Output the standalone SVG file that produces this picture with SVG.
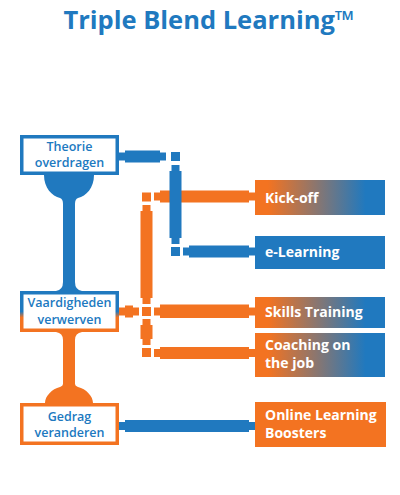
<svg xmlns="http://www.w3.org/2000/svg" width="400" height="495" viewBox="0 0 400 495">
<defs>
<linearGradient id="gH" x1="0" y1="0" x2="1" y2="0">
<stop offset="0.1" stop-color="#F37321"/>
<stop offset="0.85" stop-color="#2079BF"/>
</linearGradient>
<linearGradient id="gV" x1="0" y1="0" x2="0" y2="1">
<stop offset="0.5" stop-color="#2079BF"/>
<stop offset="0.66" stop-color="#F37321"/>
</linearGradient>
</defs>
<style>
.b{fill:#2079BF}
.o{fill:#F37321}
.title{font-family:"Open Sans","Noto Sans",sans-serif;font-weight:700;font-size:25.5px;fill:#2079BF}
.lt{font-family:"Open Sans","Noto Sans",sans-serif;font-weight:600;font-size:12.5px;fill:#2079BF;text-anchor:middle}
.rt{font-family:"Open Sans","Noto Sans",sans-serif;font-weight:700;font-size:14px;fill:#fff}
.lbox{fill:#fff;stroke-width:3.5}
</style>
<rect width="400" height="495" fill="#fff"/>
<text class="title" x="209" y="29" text-anchor="middle">Triple Blend Learning™</text>

<g id="connectors">
<path class="b" d="M44 175 H94 C94 188 86 196 78 198 Q75 199 75 204 V282 Q75 290 82 291 H56 Q63 290 63 282 V204 Q63 199 60 198 C52 196 44 188 44 175 Z"/>
<path class="o" d="M56 332 H82 Q75 333 75 340 V384 Q75 386 78 387 C86 389 93 396 93 403 H45 C45 396 52 389 60 387 Q63 386 63 384 V340 Q63 333 56 332 Z"/>
<rect class="o" x="142" y="192.5" width="9" height="9"/>
<path class="o" d="M154 192.5 H160 V190.5 H249 V192.5 H255 V200.5 H249 V202.5 H160 V200.5 H154 Z"/>
<path class="o" d="M142.5 205 V211 H140.5 V298 H142.5 V304 H150.5 V298 H152.5 V211 H150.5 V205 Z"/>
<rect class="o" x="142" y="307" width="9" height="9"/>
<path class="o" d="M119 307.5 H125 V305.5 H133 V307.5 H139 V315.5 H133 V317.5 H125 V315.5 H119 Z"/>
<path class="o" d="M154 307.5 H160 V304.5 H249 V307.5 H255 V315.5 H249 V318 H160 V315.5 H154 Z"/>
<path class="o" d="M142.5 319 V325 H140.5 V339 H142.5 V345 H150.5 V339 H152.5 V325 H150.5 V319 Z"/>
<rect class="o" x="142" y="348" width="9" height="9"/>
<path class="o" d="M154 349 H160 V347 H249 V349 H255 V357 H249 V359 H160 V357 H154 Z"/>
<path class="b" d="M119 152.5 H125 V150.5 H160 V152.5 H166 V160.5 H160 V162.5 H125 V160.5 H119 Z"/>
<rect class="b" x="171" y="152" width="9" height="9"/>
<path class="b" d="M171.5 165 V171 H169.5 V238 H171.5 V244 H179.5 V238 H181.5 V171 H179.5 V165 Z"/>
<rect class="b" x="171" y="247" width="9" height="9"/>
<path class="b" d="M183 247.5 H189 V245.5 H249 V247.5 H255 V255.5 H249 V257.5 H189 V255.5 H183 Z"/>
<path class="b" d="M119 422 H125 V420 H249 V422 H255 V430 H249 V432 H125 V430 H119 Z"/>
</g>

<g id="theorie">
<rect class="lbox" x="21.75" y="136.75" width="95.5" height="36.5" stroke="#2079BF"/>
<text class="lt" x="69.5" y="150.5">Theorie</text>
<text class="lt" x="69.5" y="167">overdragen</text>
</g>
<g id="vaardigheden">
<rect class="lbox" x="21.75" y="292.75" width="95.5" height="37.5" stroke="url(#gV)"/>
<text class="lt" x="69.5" y="306.5">Vaardigheden</text>
<text class="lt" x="69.5" y="324">verwerven</text>
</g>
<g id="gedrag">
<rect class="lbox" x="21.75" y="404.75" width="95.5" height="38.5" stroke="#F37321"/>
<text class="lt" x="69.5" y="420.5">Gedrag</text>
<text class="lt" x="69.5" y="437">veranderen</text>
</g>

<g id="kickoff">
<rect x="255" y="180" width="130" height="35" fill="url(#gH)"/>
<text class="rt" x="265" y="203">Kick-off</text>
</g>
<g id="elearning">
<rect class="b" x="255" y="236" width="130" height="33"/>
<text class="rt" x="265" y="257">e-Learning</text>
</g>
<g id="skills">
<rect x="255" y="297" width="130" height="31" fill="url(#gH)"/>
<text class="rt" x="265" y="317">Skills Training</text>
</g>
<g id="coaching">
<rect x="255" y="333" width="130" height="44" fill="url(#gH)"/>
<text class="rt" x="265" y="350">Coaching on</text>
<text class="rt" x="265" y="368">the job</text>
</g>
<g id="online">
<rect class="o" x="255" y="402" width="131" height="45"/>
<text class="rt" x="265" y="420">Online Learning</text>
<text class="rt" x="265" y="438">Boosters</text>
</g>
</svg>
